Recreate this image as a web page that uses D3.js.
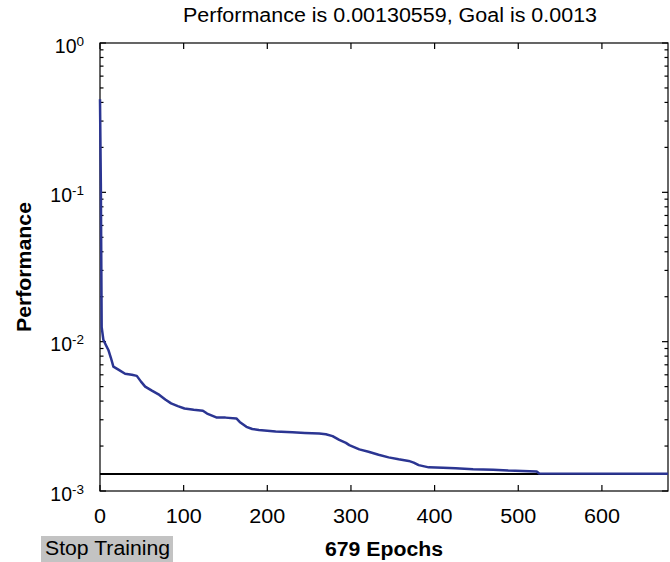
<!DOCTYPE html>
<html>
<head>
<meta charset="utf-8">
<script src="https://cdn.jsdelivr.net/npm/d3@7"></script>
<style>
  html, body { margin: 0; padding: 0; background: #fff; }
  svg { display: block; font-family: "Liberation Sans", Arial, sans-serif; }
</style>
</head>
<body>
<svg id="chart" width="670" height="562"></svg>
<script>
// ---- data ----
const epochs = [0, 1, 2, 4, 7, 10, 13, 16, 22, 30, 38, 44, 49, 54, 62, 71, 78, 85, 93, 101, 112, 123, 128, 139, 150, 163, 167, 175, 182, 190, 210, 230, 245, 262, 270, 278, 286, 294, 298, 310, 321, 333, 345, 357, 369, 375, 381, 393, 410, 425, 446, 470, 488, 505, 522, 525, 679];
const performance = [0.42, 0.115, 0.0125, 0.0103, 0.0095, 0.0088, 0.0078, 0.0068, 0.0065, 0.0061, 0.0060, 0.0059, 0.0054, 0.0050, 0.0047, 0.0044, 0.0041, 0.00386, 0.0037, 0.00357, 0.0035, 0.00345, 0.0033, 0.00311, 0.0031, 0.00306, 0.0029, 0.00269, 0.0026, 0.00256, 0.0025, 0.00247, 0.00245, 0.00243, 0.0024, 0.00233, 0.0022, 0.0021, 0.00203, 0.0019, 0.00183, 0.00175, 0.00168, 0.00163, 0.00159, 0.00155, 0.00149, 0.00144, 0.00143, 0.00142, 0.00140, 0.00139, 0.00137, 0.00136, 0.00135, 0.001308, 0.00130559];
const goal = 0.0013;
const xTicks = [0, 100, 200, 300, 400, 500, 600];
const yTickExponents = [0, -1, -2, -3];
const titleText = "Performance is 0.00130559, Goal is 0.0013";
const xLabel = "679 Epochs";
const yLabel = "Performance";
const buttonText = "Stop Training";

// ---- layout ----
const L = 100, R = 668, T = 43, B = 491;
const svg = d3.select("#chart");
const x = d3.scaleLinear().domain([0, 679]).range([L, R]);
const y = d3.scaleLog().domain([1e-3, 1]).range([B, T]);

// frame
svg.append("rect").attr("x", L).attr("y", T).attr("width", R - L).attr("height", B - T)
  .attr("fill", "#fff").attr("stroke", "#000").attr("stroke-width", 1.2);

// x ticks (inward, bottom and top)
const axisG = svg.append("g").attr("stroke", "#000").attr("stroke-width", 1.2);
xTicks.forEach(t => {
  axisG.append("line").attr("x1", x(t)).attr("x2", x(t)).attr("y1", B).attr("y2", B - 6);
  axisG.append("line").attr("x1", x(t)).attr("x2", x(t)).attr("y1", T).attr("y2", T + 6);
});
// y ticks major + minor (inward, left and right)
const minor = [];
yTickExponents.forEach(e => {
  if (e < 0) for (let k = 2; k <= 9; k++) minor.push(k * Math.pow(10, e));
});
yTickExponents.forEach(e => {
  const v = Math.pow(10, e);
  axisG.append("line").attr("x1", L).attr("x2", L + 6).attr("y1", y(v)).attr("y2", y(v));
  axisG.append("line").attr("x1", R).attr("x2", R - 6).attr("y1", y(v)).attr("y2", y(v));
});
minor.forEach(v => {
  axisG.append("line").attr("x1", L).attr("x2", L + 3.5).attr("y1", y(v)).attr("y2", y(v));
  axisG.append("line").attr("x1", R).attr("x2", R - 3.5).attr("y1", y(v)).attr("y2", y(v));
});

// goal line
svg.append("line").attr("x1", x(0)).attr("x2", x(679)).attr("y1", y(goal)).attr("y2", y(goal))
  .attr("stroke", "#000").attr("stroke-width", 2);

// performance curve
const pts = epochs.map((e, i) => [e, performance[i]]);
svg.append("path").datum(pts)
  .attr("d", d3.line().x(d => x(d[0])).y(d => y(d[1])))
  .attr("fill", "none").attr("stroke", "#2b3592").attr("stroke-width", 2.5)
  .attr("stroke-linejoin", "round");

// x tick labels
svg.append("g").selectAll("text").data(xTicks).join("text")
  .attr("x", d => x(d)).attr("y", B + 32).attr("text-anchor", "middle")
  .attr("font-size", 19.5).attr("fill", "#000")
  .attr("textLength", d => String(d).length * 12)
  .attr("lengthAdjust", "spacingAndGlyphs")
  .text(d => d);

// y tick labels with superscripts
yTickExponents.forEach(e => {
  const t = svg.append("text").attr("x", L - 16).attr("y", y(Math.pow(10, e)) + 9.5)
    .attr("text-anchor", "end").attr("font-size", 19.5).attr("fill", "#000");
  t.append("tspan").text("10");
  t.append("tspan").attr("font-size", 13.5).attr("dy", -7).text(e === 0 ? "0" : "-" + Math.abs(e));
});

// title
svg.append("text").attr("x", 390).attr("y", 22).attr("text-anchor", "middle")
  .attr("font-size", 19.5).attr("fill", "#000")
  .attr("textLength", 414).attr("lengthAdjust", "spacingAndGlyphs")
  .text(titleText);

// y label
svg.append("text").attr("transform", `translate(31,${(T + B) / 2}) rotate(-90)`)
  .attr("text-anchor", "middle").attr("font-size", 20).attr("font-weight", "bold")
  .attr("textLength", 130).attr("lengthAdjust", "spacingAndGlyphs")
  .attr("fill", "#000").text(yLabel);

// x label
svg.append("text").attr("x", 384).attr("y", 556).attr("text-anchor", "middle")
  .attr("font-size", 20).attr("font-weight", "bold").attr("fill", "#000")
  .attr("textLength", 118).attr("lengthAdjust", "spacingAndGlyphs")
  .text(xLabel);

// stop training button
svg.append("rect").attr("x", 41).attr("y", 536).attr("width", 132).attr("height", 26)
  .attr("fill", "#c3c3c3");
svg.append("text").attr("x", 107.5).attr("y", 555).attr("text-anchor", "middle")
  .attr("font-size", 20).attr("fill", "#000")
  .attr("textLength", 125).attr("lengthAdjust", "spacingAndGlyphs")
  .text(buttonText);
</script>
</body>
</html>
